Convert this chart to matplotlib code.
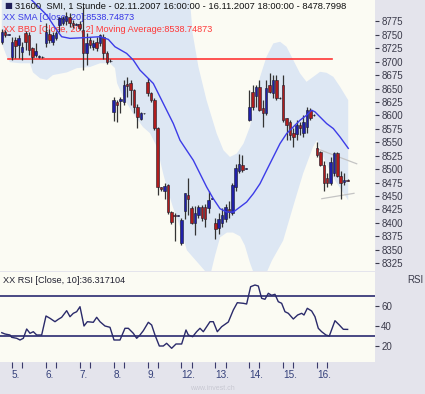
import matplotlib
matplotlib.use('Agg')
import matplotlib.pyplot as plt
import numpy as np

plt.rcParams['font.family'] = ['Liberation Sans', 'DejaVu Sans']

# ---------------- data (hourly bars, index 0 = 02.11.2007 16:00) ----------------
opens = [8736, 8755, 8750,
         8708, 8740, 8731, 8718, 8753, 8750, 8725, 8712, 8708, 8709,
         8735, 8752, 8736, 8744, 8768, 8772, 8776, 8783, 8772, 8769,
         8770, 8759, 8716, 8740, 8727, 8736, 8734, 8745, 8716, 8701,
         8606, 8625, 8627, 8624, 8658, 8660, 8647, 8615, 8594, 8604,
         8662, 8641, 8628, 8576, 8466, 8460, 8470, 8420, 8415, 8413,
         8362, 8423, 8452, 8428, 8399, 8414, 8429, 8429, 8427, 8445,
         8399, 8390, 8399, 8408, 8425, 8418, 8466, 8497, 8507, 8501,
         8591, 8644, 8637, 8652, 8613, 8604, 8656, 8641, 8666, 8632,
         8656, 8595, 8587, 8568, 8566, 8582, 8567, 8578, 8610, 8600,
         8539, 8531, 8507, 8483, 8474, 8492, 8530, 8488, 8476, 8479]
highs = [8760, 8758, 8751,
         8746, 8745, 8750, 8736, 8757, 8755, 8727, 8734, 8712, 8710,
         8772, 8760, 8755, 8757, 8783, 8785, 8792, 8790, 8778, 8771,
         8776, 8802, 8753, 8745, 8740, 8745, 8752, 8752, 8720, 8704,
         8634, 8628, 8634, 8665, 8671, 8665, 8650, 8622, 8606, 8605,
         8670, 8643, 8632, 8578, 8467, 8474, 8473, 8422, 8418, 8415,
         8410, 8456, 8483, 8432, 8432, 8434, 8434, 8436, 8460, 8446,
         8410, 8418, 8427, 8436, 8441, 8475, 8510, 8529, 8527, 8502,
         8647, 8656, 8656, 8666, 8628, 8666, 8679, 8675, 8675, 8634,
         8675, 8596, 8591, 8576, 8591, 8587, 8600, 8615, 8613, 8602,
         8550, 8533, 8516, 8492, 8522, 8531, 8531, 8497, 8492, 8481]
lows = [8733, 8745, 8749,
        8703, 8706, 8707, 8703, 8722, 8712, 8697, 8708, 8706, 8707,
        8727, 8735, 8731, 8740, 8755, 8768, 8768, 8764, 8762, 8768,
        8758, 8684, 8693, 8725, 8722, 8720, 8730, 8705, 8695, 8700,
        8590, 8588, 8604, 8619, 8634, 8620, 8605, 8576, 8592, 8603,
        8637, 8624, 8572, 8451, 8460, 8445, 8417, 8397, 8367, 8412,
        8358, 8408, 8414, 8397, 8378, 8410, 8403, 8392, 8418, 8444,
        8370, 8380, 8392, 8401, 8410, 8414, 8460, 8492, 8495, 8500,
        8589, 8610, 8615, 8608, 8578, 8600, 8641, 8632, 8628, 8631,
        8587, 8554, 8554, 8541, 8554, 8563, 8559, 8567, 8591, 8599,
        8522, 8505, 8460, 8466, 8470, 8488, 8485, 8445, 8470, 8477]
closes = [8755, 8750, 8750,
          8737, 8730, 8744, 8727, 8736, 8722, 8708, 8720, 8710, 8708,
          8755, 8740, 8749, 8753, 8781, 8781, 8784, 8772, 8768, 8770,
          8762, 8716, 8734, 8731, 8735, 8725, 8750, 8716, 8700, 8702,
          8628, 8620, 8630, 8656, 8655, 8647, 8615, 8597, 8604, 8604,
          8641, 8628, 8576, 8466, 8463, 8469, 8420, 8401, 8412, 8414,
          8405, 8455, 8445, 8399, 8418, 8429, 8410, 8408, 8442, 8445,
          8389, 8408, 8414, 8429, 8421, 8470, 8503, 8510, 8498, 8501,
          8616, 8616, 8652, 8610, 8604, 8651, 8643, 8666, 8632, 8633,
          8591, 8582, 8563, 8559, 8582, 8576, 8587, 8610, 8595, 8601,
          8526, 8507, 8474, 8474, 8513, 8530, 8488, 8475, 8480, 8478.8]

# SMA(20) line, read at bar positions
sma_idx = [0, 8.81, 11.27, 13.24, 16.19, 17.66, 20.12, 24.05, 28.97, 31.43, 33.39,
           36.83, 38.8, 40.77, 43.23, 44.7, 46.67, 48.63, 50.6, 52.57, 54.53,
           56.5, 58.47, 60.43, 62.4, 64.37, 66.33, 68.3, 70.27, 72.23, 74.2,
           76.17, 78.13, 80.1, 82.07, 84.03, 86.0, 87.97, 89.93, 91.41, 92.39,
           93.87, 95.83, 97.8, 99.77, 102.22]
sma_val = [8880, 8814.7, 8799.2, 8786.7, 8758.8, 8746.4, 8743.3, 8744.5, 8746.4, 8741.4, 8727.7,
           8715.3, 8702.9, 8684.2, 8668.7, 8659.4, 8634.5, 8609.7, 8584.8, 8553.8, 8535.1,
           8516.5, 8491.6, 8466.8, 8445.0, 8426.4, 8420.2, 8420.2, 8429.5, 8438.8, 8454.4,
           8472.9, 8497.9, 8522.7, 8547.5, 8566.2, 8578.6, 8591.0, 8600.4, 8609.7, 8606.6,
           8597.2, 8584.8, 8575.5, 8560.0, 8538.7]

# Bollinger band edges
bb_up_idx = [0, 54.8, 55.5, 56.3, 58.0, 60.4, 63.4, 65.4, 67.3, 69.3, 71.3, 73.2,
             74.7, 76.2, 78.1, 80.1, 82.1, 84.0, 86.0, 88.0, 89.9, 91.9, 93.9,
             95.8, 97.8, 99.8, 102.2]
bb_up_val = [8850, 8850, 8814.7, 8752.6, 8690.4, 8628.3, 8566.2, 8535.1, 8522.7, 8528.9, 8547.5, 8578.6,
             8628.3, 8671.8, 8709.1, 8733.9, 8737.0, 8727.7, 8702.9, 8678.0, 8662.5, 8671.8, 8681.1,
             8679.3, 8671.8, 8653.2, 8628.3]
bb_lo_idx = [0, 1.5, 2.4, 5.4, 8.3, 9.2, 11.3, 13.3, 15.1, 19.2, 22.2, 26.0, 29.0, 31.9,
             33.4, 34.0, 35.8, 38.7, 41.7, 43.7, 45.8, 46.7, 47.6, 48.7, 50.5, 52.6,
             54.6, 58.5, 61.4, 62.9, 64.4, 66.4, 68.2, 70.3, 71.7, 73.2, 74.7, 77.6,
             79.7, 83.0, 86.5, 88.9, 91.8, 93.0, 95.3, 98.3, 102.2]
bb_lo_val = [8734, 8709, 8699, 8697, 8697, 8680, 8669, 8666, 8675, 8680, 8688, 8690, 8697, 8697,
             8688, 8660, 8634, 8604, 8578, 8567, 8541, 8516, 8492, 8466, 8429, 8392,
             8349, 8321, 8300, 8339, 8373, 8382, 8382, 8375, 8358, 8326, 8300, 8300,
             8330, 8367, 8442, 8492, 8541, 8554, 8516, 8479, 8442]

# horizontal level and trend lines
level_price = 8705
level_idx = [1.8, 97.4]
trend_up_idx, trend_up_val = [93.4, 104.7], [8537, 8510]
trend_lo_idx, trend_lo_val = [94.4, 103.9], [8445, 8455]

# RSI(10)
rsi_idx = [0, 0.94, 2.42, 2.91, 4.39, 5.37, 6.35, 7.34, 8.32, 9.3, 10.29, 11.76,
           13.04, 14.22, 15.69, 16.68, 17.66, 19.14, 20.12, 21.1, 22.09, 23.07,
           24.25, 25.23, 27.0, 27.99, 28.97, 30.44, 31.92, 33.1, 34.87, 36.34,
           37.33, 38.8, 39.79, 40.77, 41.75, 43.23, 44.21, 45.19, 46.47, 47.65,
           48.63, 50.11, 51.39, 53.06, 54.34, 55.03, 56.3, 57.48, 58.47, 59.45,
           61.42, 62.4, 63.58, 64.86, 66.83, 68.3, 69.48, 71.25, 72.23, 73.41,
           74.69, 75.68, 76.66, 77.64, 78.63, 79.61, 80.59, 81.57, 82.56, 83.54,
           84.52, 86.0, 87.28, 88.46, 89.15, 90.13, 91.41, 92.39, 93.37, 94.36,
           95.63, 96.62, 98.29, 99.57, 100.75, 102.03]
rsi_val = [33, 31.7, 30.7, 28.4, 27.4, 25.7, 27.4, 36.7, 32.4, 34, 30.7, 30.7,
           49.7, 47.4, 44, 46.4, 48.4, 55, 49, 52.4, 54, 59,
           39.7, 44, 43.4, 48.4, 44, 39.7, 38.4, 25.7, 25.7, 37.4,
           37.4, 32.4, 27.4, 30.7, 35, 43.4, 40.7, 30.7, 19.7, 19.7,
           22.4, 17.4, 21.7, 21.7, 35.7, 30.7, 29, 34, 37.4, 34,
           44, 44, 34, 39, 43.7, 55.7, 63, 62.4, 61.7, 79,
           80.7, 79.7, 67.4, 66.4, 72.4, 70.4, 71.4, 64, 62.4, 54,
           52.4, 46.7, 50.7, 52.4, 50.7, 57.4, 54.7, 49, 37.4, 34,
           30.7, 29.7, 45, 40.7, 36.4, 36.3]
rsi_levels = [70, 30]

day_labels = ['5.', '6.', '7.', '8.', '9.', '12.', '13.', '14.', '15.', '16.']
day_start_idx = [3, 13, 23, 33, 43, 53, 63, 73, 83, 93]
price_ticks = list(range(8325, 8776, 25))
rsi_ticks = [20, 40, 60]

title = '31600  SMI, 1 Stunde - 02.11.2007 16:00:00 - 16.11.2007 18:00:00 - 8478.7998'
sma_label = 'XX SMA [Close, 20]:8538.74873'
bbd_label = 'XX BBD [Close, 20, 2] Moving Average:8538.74873'
rsi_label = 'XX RSI [Close, 10]:36.317104'

# ---------------- figure ----------------
W, H = 425, 394
fig = plt.figure(figsize=(W / 100, H / 100), dpi=100, facecolor='#E4E4EC')
ax = fig.add_axes([0, 1 - 270.5 / H, 375 / W, 270.5 / H], facecolor='#FBFBF3')
ax2 = fig.add_axes([0, 1 - 362 / H, 375 / W, 90 / H], facecolor='#FBFBF3')

xlim = (-0.53, 110.1)

# band
bx = np.concatenate([bb_up_idx, bb_lo_idx[::-1]])
by = np.concatenate([bb_up_val, bb_lo_val[::-1]])
ax.fill(bx, by, color='#DDE7F3', lw=0, zorder=1)

# level line
ax.plot(level_idx, [level_price, level_price], color='#FF3535', lw=1.2, zorder=2)

# candles
idx = np.arange(len(opens))
o = np.array(opens, float); c = np.array(closes, float)
h = np.array(highs, float); l = np.array(lows, float)
up = c >= o
ax.vlines(idx, l, h, color='#333333', lw=0.9, zorder=3)
bottoms = np.minimum(o, c)
heights = np.maximum(np.abs(c - o), 1.0)
ax.bar(idx[up], heights[up], bottom=bottoms[up], width=0.75, color='#2020A8',
       edgecolor='#1a1a2a', lw=0.4, zorder=3.5)
ax.bar(idx[~up], heights[~up], bottom=bottoms[~up], width=0.75, color='#B01C1C',
       edgecolor='#1a1a2a', lw=0.4, zorder=3.5)

# trendlines
ax.plot(trend_up_idx, trend_up_val, color='#C4C4C4', lw=0.9, zorder=2)
ax.plot(trend_lo_idx, trend_lo_val, color='#C4C4C4', lw=0.9, zorder=2)

# SMA
ax.plot(sma_idx, sma_val, color='#3c3ce8', lw=1.0, zorder=4)

ax.set_xlim(*xlim)
ax.set_ylim(8311.4, 8814.7)
ax.set_xticks([])
ax.yaxis.tick_right()
ax.set_yticks(price_ticks)
ax.tick_params(axis='y', length=3, width=0.8, pad=1.5, labelsize=7,
               colors='#3a3a4a')
for s in ax.spines.values():
    s.set_visible(False)

ax.text(0.012, 0.978, '■', transform=ax.transAxes, fontsize=6, color='#20205a',
        va='center', ha='left', family=['DejaVu Sans'], zorder=5)
ax.text(0.040, 0.978, title, transform=ax.transAxes, fontsize=6.75, color='#101010',
        va='center', ha='left', zorder=5)
ax.text(0.008, 0.937, sma_label, transform=ax.transAxes, fontsize=6.6, color='#3838E6',
        va='center', ha='left', zorder=2.5)
ax.text(0.008, 0.891, bbd_label, transform=ax.transAxes, fontsize=6.6, color='#FF3838',
        va='center', ha='left', zorder=2.5)

# RSI panel
for lv in rsi_levels:
    ax2.axhline(lv, color='#3a3a7a', lw=1.3, zorder=2)
ax2.plot(rsi_idx, rsi_val, color='#2a2a6a', lw=1.0, zorder=3)
ax2.set_xlim(*xlim)
ax2.set_ylim(3.7, 93.7)
ax2.yaxis.tick_right()
ax2.set_yticks(rsi_ticks)
ax2.tick_params(axis='y', length=3, width=0.8, pad=1.5, labelsize=7, colors='#3a3a4a')
ax2.set_xticks(day_start_idx)
ax2.set_xticklabels(day_labels)
ax2.set_xticks([d + 3 for d in day_start_idx], minor=True)
ax2.tick_params(axis='x', which='both', length=4, width=0.8, color='#3a3a6a',
                labelsize=7.2, labelcolor='#34407a', pad=2)
for lab in ax2.get_xticklabels():
    lab.set_ha('left')
for s in ax2.spines.values():
    s.set_visible(False)
ax2.text(0.008, 0.911, rsi_label, transform=ax2.transAxes, fontsize=6.6, color='#202030',
         va='center', ha='left')
fig.text(415 / W, 1 - 280 / H, 'RSI', fontsize=7, color='#3a3a4a', ha='center', va='center')
fig.text(212 / W, 1 - 388 / H, 'www.invest.ch', fontsize=5, color='#C8C8D2',
         ha='center', va='center')

fig.savefig('out.png', dpi=100, facecolor=fig.get_facecolor())
